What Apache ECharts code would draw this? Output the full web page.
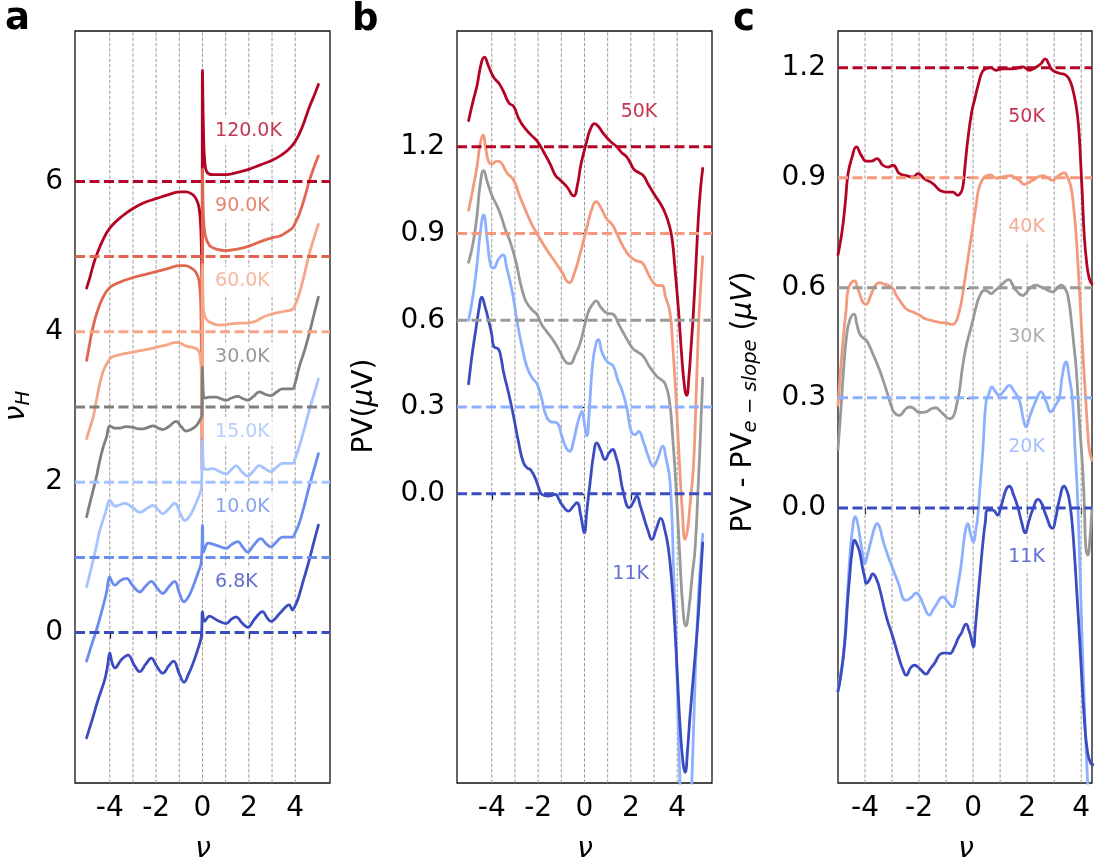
<!DOCTYPE html>
<html>
<head>
<meta charset="utf-8">
<script src="https://cdn.jsdelivr.net/npm/echarts@6/dist/echarts.min.js"></script>
<style>
  html, body { margin: 0; padding: 0; background: #fff; }
  #chart { width: 1096px; height: 867px; }
</style>
</head>
<body>
<div id="chart"></div>
<script>
// ---------- panel a: nu_H vs nu, each temperature shifted by its offset ----------
const a_temps   = ['6.8K', '10.0K', '15.0K', '30.0K', '60.0K', '90.0K', '120.0K'];
const a_offsets = [0, 1, 2, 3, 4, 5, 6];
const a_yticks  = [0, 2, 4, 6];

const a_068K = [[-5.0,-1.40],[-4.75,-1.15],[-4.5,-0.89],[-4.22,-0.63],[-4.1,-0.45],[-4.0,-0.27],[-3.9,-0.40],[-3.78,-0.47],[-3.5,-0.36],[-3.21,-0.30],[-2.95,-0.43],[-2.71,-0.52],[-2.45,-0.42],[-2.21,-0.34],[-1.95,-0.46],[-1.71,-0.54],[-1.45,-0.44],[-1.25,-0.38],[-1.0,-0.55],[-0.8,-0.66],[-0.6,-0.55],[-0.41,-0.41],[-0.2,-0.22],[-0.05,-0.05],[0.0,0.28],[0.09,0.15],[0.3,0.22],[0.65,0.16],[1.02,0.12],[1.25,0.18],[1.45,0.21],[1.7,0.13],[1.95,0.07],[2.25,0.18],[2.59,0.28],[2.78,0.20],[2.95,0.15],[3.35,0.26],[3.74,0.37],[3.88,0.30],[4.0,0.36],[4.10,0.43],[4.35,0.69],[4.6,0.96],[4.8,1.20],[5.0,1.43]];
const a_100K = [[-5.0,-0.38],[-4.8,-0.18],[-4.57,0.04],[-4.29,0.35],[-4.15,0.52],[-4.0,0.74],[-3.9,0.67],[-3.78,0.63],[-3.55,0.69],[-3.28,0.72],[-3.0,0.62],[-2.71,0.54],[-2.45,0.62],[-2.21,0.68],[-1.95,0.59],[-1.71,0.52],[-1.45,0.61],[-1.2,0.68],[-1.0,0.53],[-0.8,0.41],[-0.6,0.48],[-0.41,0.61],[-0.2,0.79],[-0.05,0.94],[0.0,1.43],[0.04,1.07],[0.12,1.13],[0.23,1.19],[0.6,1.16],[1.02,1.12],[1.25,1.17],[1.52,1.21],[1.75,1.13],[1.95,1.07],[2.2,1.16],[2.52,1.25],[2.75,1.18],[2.95,1.14],[3.2,1.21],[3.45,1.27],[3.88,1.27],[4.0,1.33],[4.17,1.45],[4.4,1.70],[4.6,1.94],[4.8,2.16],[5.0,2.38]];
const a_150K = [[-5.0,0.61],[-4.86,0.78],[-4.72,0.96],[-4.57,1.16],[-4.43,1.36],[-4.2,1.58],[-4.0,1.76],[-3.9,1.72],[-3.78,1.68],[-3.55,1.70],[-3.35,1.72],[-3.0,1.66],[-2.71,1.60],[-2.4,1.65],[-2.14,1.69],[-1.9,1.63],[-1.71,1.58],[-1.45,1.65],[-1.2,1.72],[-0.95,1.58],[-0.77,1.49],[-0.6,1.53],[-0.41,1.63],[-0.2,1.78],[-0.05,1.92],[0.0,2.56],[0.04,2.20],[0.15,2.17],[0.44,2.18],[0.75,2.14],[1.02,2.11],[1.25,2.17],[1.45,2.22],[1.7,2.14],[1.95,2.08],[2.2,2.15],[2.45,2.22],[2.7,2.18],[2.95,2.14],[3.2,2.20],[3.45,2.25],[3.88,2.25],[4.0,2.32],[4.17,2.47],[4.4,2.72],[4.6,2.95],[4.8,3.16],[5.0,3.37]];
const a_300K = [[-5.0,1.54],[-4.86,1.72],[-4.72,1.89],[-4.57,2.08],[-4.43,2.29],[-4.29,2.46],[-4.14,2.60],[-4.0,2.75],[-3.8,2.72],[-3.57,2.72],[-3.3,2.74],[-3.0,2.73],[-2.78,2.71],[-2.57,2.71],[-2.35,2.73],[-2.14,2.75],[-1.92,2.72],[-1.71,2.70],[-1.45,2.74],[-1.14,2.81],[-0.92,2.74],[-0.71,2.68],[-0.5,2.70],[-0.27,2.75],[-0.09,2.84],[-0.02,2.90],[0.0,3.53],[0.04,3.16],[0.12,3.12],[0.3,3.13],[0.59,3.13],[0.8,3.11],[1.02,3.09],[1.25,3.12],[1.52,3.14],[1.75,3.11],[1.95,3.09],[2.2,3.14],[2.45,3.20],[2.7,3.17],[2.95,3.15],[3.2,3.20],[3.45,3.24],[3.7,3.24],[3.88,3.24],[4.0,3.32],[4.17,3.53],[4.4,3.75],[4.6,3.97],[4.8,4.22],[5.0,4.46]];
const a_600K = [[-5.0,2.58],[-4.86,2.72],[-4.72,2.86],[-4.57,3.10],[-4.43,3.31],[-4.29,3.47],[-4.14,3.57],[-3.93,3.66],[-3.5,3.70],[-3.0,3.73],[-2.5,3.76],[-2.02,3.79],[-1.5,3.83],[-1.12,3.86],[-0.9,3.84],[-0.69,3.81],[-0.4,3.79],[-0.2,3.76],[-0.1,3.68],[-0.05,3.40],[-0.02,2.60],[0.0,4.90],[0.04,4.30],[0.12,4.19],[0.3,4.13],[0.73,4.09],[1.31,4.11],[2.0,4.12],[2.3,4.14],[2.58,4.19],[3.02,4.24],[3.5,4.27],[3.88,4.30],[4.0,4.36],[4.17,4.50],[4.4,4.77],[4.6,5.03],[4.8,5.24],[5.0,5.43]];
const a_900K = [[-5.0,3.62],[-4.89,3.80],[-4.79,3.97],[-4.57,4.24],[-4.29,4.46],[-4.0,4.59],[-3.57,4.66],[-3.0,4.72],[-2.5,4.76],[-2.0,4.80],[-1.5,4.84],[-1.02,4.88],[-0.75,4.88],[-0.5,4.85],[-0.3,4.80],[-0.15,4.68],[-0.07,4.30],[-0.02,2.16],[0.0,6.16],[0.04,5.55],[0.12,5.28],[0.3,5.15],[0.6,5.10],[1.0,5.08],[1.5,5.10],[2.0,5.14],[2.59,5.21],[3.0,5.25],[3.31,5.27],[3.6,5.32],[3.88,5.38],[4.0,5.45],[4.17,5.56],[4.4,5.78],[4.6,6.00],[4.8,6.18],[5.0,6.34]];
const a_1200K = [[-5.0,4.58],[-4.86,4.72],[-4.72,4.88],[-4.57,5.02],[-4.3,5.22],[-4.0,5.38],[-3.5,5.53],[-3.0,5.64],[-2.5,5.72],[-2.0,5.77],[-1.5,5.82],[-1.0,5.86],[-0.7,5.86],[-0.45,5.83],[-0.28,5.77],[-0.15,5.65],[-0.07,5.35],[-0.02,4.60],[0.0,7.48],[0.04,6.70],[0.1,6.25],[0.2,6.12],[0.45,6.09],[1.0,6.09],[1.5,6.12],[2.0,6.16],[2.5,6.22],[3.0,6.28],[3.4,6.35],[3.7,6.42],[4.0,6.53],[4.3,6.72],[4.6,6.98],[4.8,7.13],[5.0,7.29]];

// ---------- panel b: PV (uV), shifted ----------
const bc_offsets = [0, 0.3, 0.6, 0.9, 1.2];
const bc_yticks  = [0, 0.3, 0.6, 0.9, 1.2];
const nu_ticks   = [-4, -2, 0, 2, 4];
const nu_grid    = [-4, -3, -2, -1, 0, 1, 2, 3, 4];

const b_11K = [[-5.0,0.38],[-4.85,0.48],[-4.71,0.556],[-4.55,0.64],[-4.43,0.68],[-4.3,0.65],[-4.14,0.60],[-4.0,0.55],[-3.92,0.51],[-3.71,0.50],[-3.6,0.47],[-3.49,0.42],[-3.28,0.35],[-3.06,0.268],[-2.84,0.176],[-2.63,0.107],[-2.45,0.088],[-2.34,0.084],[-2.13,0.055],[-1.95,0.015],[-1.84,-0.002],[-1.55,-0.008],[-1.26,-0.002],[-1.1,-0.02],[-0.98,-0.037],[-0.69,-0.06],[-0.5,-0.045],[-0.33,-0.031],[-0.15,-0.08],[-0.01,-0.135],[0.1,-0.06],[0.24,0.038],[0.4,0.14],[0.53,0.176],[0.7,0.15],[0.89,0.118],[1.05,0.14],[1.22,0.153],[1.35,0.13],[1.47,0.095],[1.68,0.003],[1.94,-0.048],[2.1,-0.03],[2.26,-0.008],[2.4,-0.04],[2.54,-0.077],[2.75,-0.13],[2.9,-0.158],[3.1,-0.12],[3.29,-0.085],[3.45,-0.12],[3.62,-0.19],[3.78,-0.32],[3.91,-0.48],[4.02,-0.65],[4.12,-0.80],[4.25,-0.93],[4.34,-0.963],[4.45,-0.88],[4.55,-0.77],[4.75,-0.58],[4.91,-0.42],[5.0,-0.30],[5.1,-0.17]];
const b_20K = [[-5.0,0.60],[-4.8,0.69],[-4.64,0.79],[-4.5,0.90],[-4.35,0.964],[-4.2,0.88],[-4.05,0.79],[-3.92,0.78],[-3.72,0.81],[-3.52,0.826],[-3.35,0.78],[-3.2,0.73],[-3.05,0.67],[-2.92,0.60],[-2.7,0.51],[-2.49,0.44],[-2.25,0.40],[-2.05,0.38],[-1.85,0.33],[-1.70,0.28],[-1.48,0.25],[-1.19,0.245],[-0.98,0.20],[-0.8,0.16],[-0.65,0.147],[-0.45,0.19],[-0.33,0.234],[-0.2,0.27],[-0.11,0.285],[0.0,0.24],[0.1,0.20],[0.2,0.28],[0.35,0.45],[0.5,0.52],[0.6,0.533],[0.75,0.49],[0.96,0.458],[1.1,0.45],[1.25,0.44],[1.45,0.39],[1.61,0.36],[1.82,0.30],[2.04,0.21],[2.2,0.205],[2.33,0.216],[2.54,0.18],[2.75,0.13],[2.97,0.095],[3.15,0.12],[3.38,0.165],[3.5,0.13],[3.69,0.04],[3.85,-0.28],[4.0,-0.65],[4.12,-1.00],[4.3,-1.30],[4.45,-1.35],[4.63,-1.00],[4.78,-0.62],[4.91,-0.365],[5.0,-0.25],[5.1,-0.14]];
const b_30K = [[-5.0,0.80],[-4.8,0.87],[-4.64,0.96],[-4.5,1.07],[-4.35,1.117],[-4.2,1.08],[-3.99,1.03],[-3.8,1.00],[-3.64,0.97],[-3.4,0.91],[-3.2,0.87],[-2.95,0.80],[-2.77,0.73],[-2.6,0.68],[-2.49,0.66],[-2.25,0.635],[-2.05,0.62],[-1.85,0.585],[-1.62,0.56],[-1.3,0.525],[-1.05,0.49],[-0.8,0.455],[-0.62,0.45],[-0.4,0.48],[-0.19,0.52],[0.0,0.58],[0.17,0.63],[0.35,0.655],[0.5,0.667],[0.7,0.645],[0.96,0.625],[1.25,0.62],[1.45,0.59],[1.68,0.556],[1.9,0.525],[2.11,0.50],[2.3,0.49],[2.54,0.475],[2.8,0.44],[3.12,0.406],[3.3,0.395],[3.48,0.38],[3.65,0.33],[3.8,0.20],[3.95,0.02],[4.1,-0.20],[4.25,-0.40],[4.37,-0.457],[4.5,-0.40],[4.65,-0.28],[4.77,-0.19],[4.9,0.02],[5.0,0.20],[5.1,0.40]];
const b_40K = [[-5.0,0.98],[-4.8,1.06],[-4.64,1.13],[-4.5,1.21],[-4.38,1.24],[-4.25,1.19],[-4.14,1.15],[-4.0,1.14],[-3.78,1.15],[-3.6,1.145],[-3.35,1.11],[-3.06,1.085],[-2.8,1.03],[-2.49,0.97],[-2.2,0.92],[-1.91,0.88],[-1.6,0.84],[-1.34,0.81],[-1.0,0.77],[-0.65,0.73],[-0.45,0.76],[-0.19,0.83],[0.1,0.92],[0.3,0.98],[0.5,1.01],[0.7,0.99],[0.96,0.95],[1.2,0.93],[1.39,0.90],[1.7,0.85],[1.97,0.82],[2.25,0.805],[2.47,0.80],[2.75,0.76],[2.97,0.73],[3.15,0.72],[3.33,0.72],[3.5,0.68],[3.69,0.625],[3.8,0.52],[3.95,0.33],[4.1,0.10],[4.22,-0.06],[4.34,-0.158],[4.45,-0.12],[4.55,-0.04],[4.7,0.095],[4.8,0.30],[4.91,0.56],[5.0,0.70],[5.1,0.82]];
const b_50K = [[-5.0,1.29],[-4.8,1.36],[-4.64,1.41],[-4.45,1.49],[-4.32,1.51],[-4.15,1.48],[-3.92,1.44],[-3.7,1.42],[-3.49,1.39],[-3.25,1.35],[-3.06,1.34],[-2.85,1.30],[-2.63,1.27],[-2.3,1.24],[-2.05,1.22],[-1.75,1.18],[-1.48,1.14],[-1.25,1.10],[-1.05,1.085],[-0.75,1.06],[-0.47,1.03],[-0.3,1.07],[-0.15,1.14],[0.1,1.22],[0.25,1.26],[0.43,1.28],[0.6,1.27],[0.82,1.245],[1.1,1.22],[1.39,1.20],[1.6,1.18],[1.82,1.165],[2.0,1.14],[2.15,1.12],[2.35,1.11],[2.54,1.10],[2.75,1.07],[3.05,1.03],[3.3,1.00],[3.48,0.97],[3.65,0.93],[3.78,0.88],[3.9,0.78],[4.05,0.64],[4.2,0.47],[4.33,0.36],[4.41,0.34],[4.5,0.40],[4.6,0.51],[4.7,0.63],[4.8,0.78],[4.91,0.95],[5.0,1.05],[5.1,1.125]];

// ---------- panel c: PV minus the e-slope part, shifted ----------
const c_11K = [[-5.0,-0.50],[-4.9,-0.46],[-4.75,-0.369],[-4.65,-0.26],[-4.57,-0.188],[-4.48,-0.12],[-4.38,-0.088],[-4.3,-0.10],[-4.2,-0.12],[-4.1,-0.16],[-4.01,-0.19],[-3.95,-0.206],[-3.83,-0.195],[-3.71,-0.18],[-3.6,-0.19],[-3.46,-0.22],[-3.21,-0.297],[-2.97,-0.352],[-2.72,-0.415],[-2.6,-0.44],[-2.48,-0.456],[-2.3,-0.435],[-2.17,-0.429],[-1.98,-0.438],[-1.74,-0.453],[-1.6,-0.44],[-1.43,-0.424],[-1.18,-0.397],[-1.0,-0.395],[-0.87,-0.397],[-0.69,-0.379],[-0.55,-0.355],[-0.44,-0.342],[-0.26,-0.317],[-0.15,-0.335],[-0.07,-0.356],[0.01,-0.379],[0.08,-0.33],[0.17,-0.252],[0.27,-0.17],[0.36,-0.097],[0.45,-0.04],[0.54,-0.006],[0.73,-0.006],[0.91,-0.02],[1.0,-0.005],[1.1,0.021],[1.22,0.05],[1.34,0.059],[1.5,0.035],[1.65,0.003],[1.8,-0.04],[1.93,-0.068],[2.05,-0.04],[2.2,-0.006],[2.41,0.023],[2.55,0.01],[2.67,-0.015],[2.94,-0.056],[3.05,-0.03],[3.19,0.021],[3.37,0.059],[3.5,0.04],[3.56,0.021],[3.65,-0.03],[3.74,-0.115],[3.83,-0.22],[3.93,-0.342],[4.11,-0.569],[4.24,-0.669],[4.36,-0.697],[4.45,-0.70]];
const c_20K = [[-5.0,-0.50],[-4.9,-0.45],[-4.82,-0.415],[-4.7,-0.30],[-4.57,-0.142],[-4.45,-0.05],[-4.36,-0.024],[-4.28,-0.04],[-4.2,-0.075],[-4.1,-0.12],[-4.01,-0.152],[-3.9,-0.125],[-3.77,-0.088],[-3.65,-0.055],[-3.55,-0.043],[-3.45,-0.055],[-3.34,-0.088],[-3.2,-0.12],[-3.09,-0.143],[-2.78,-0.202],[-2.48,-0.252],[-2.3,-0.245],[-2.11,-0.232],[-1.95,-0.245],[-1.86,-0.261],[-1.61,-0.292],[-1.5,-0.28],[-1.37,-0.265],[-1.2,-0.245],[-1.12,-0.243],[-0.95,-0.255],[-0.75,-0.27],[-0.65,-0.25],[-0.57,-0.215],[-0.45,-0.16],[-0.38,-0.115],[-0.28,-0.06],[-0.2,-0.043],[-0.1,-0.07],[0.01,-0.093],[0.1,-0.06],[0.17,-0.025],[0.27,0.07],[0.36,0.157],[0.48,0.29],[0.58,0.31],[0.7,0.33],[0.8,0.32],[0.97,0.307],[1.15,0.32],[1.34,0.334],[1.5,0.32],[1.71,0.293],[1.85,0.245],[1.96,0.221],[2.1,0.25],[2.33,0.293],[2.51,0.316],[2.7,0.29],[2.88,0.262],[3.05,0.28],[3.19,0.30],[3.3,0.36],[3.44,0.398],[3.55,0.36],[3.68,0.293],[3.78,0.15],[3.87,0.021],[3.99,-0.252],[4.11,-0.524],[4.24,-0.75],[4.35,-0.90]];
const c_30K = [[-5.0,0.16],[-4.9,0.26],[-4.79,0.38],[-4.68,0.47],[-4.57,0.511],[-4.41,0.528],[-4.3,0.50],[-4.2,0.475],[-4.07,0.463],[-3.95,0.457],[-3.83,0.44],[-3.71,0.42],[-3.46,0.375],[-3.21,0.321],[-2.97,0.266],[-2.85,0.255],[-2.72,0.252],[-2.6,0.26],[-2.48,0.271],[-2.35,0.275],[-2.23,0.273],[-1.98,0.26],[-1.74,0.262],[-1.55,0.27],[-1.37,0.273],[-1.25,0.266],[-1.12,0.257],[-0.87,0.243],[-0.78,0.245],[-0.69,0.257],[-0.6,0.285],[-0.5,0.321],[-0.4,0.38],[-0.26,0.439],[-0.12,0.48],[-0.01,0.511],[0.1,0.545],[0.23,0.575],[0.42,0.593],[0.55,0.59],[0.67,0.584],[0.8,0.592],[0.97,0.602],[1.15,0.615],[1.32,0.622],[1.45,0.61],[1.59,0.593],[1.83,0.579],[2.0,0.59],[2.08,0.598],[2.33,0.607],[2.5,0.603],[2.64,0.598],[2.94,0.589],[3.1,0.598],[3.25,0.607],[3.44,0.593],[3.55,0.56],[3.62,0.52],[3.72,0.45],[3.81,0.384],[3.93,0.239],[4.05,0.112],[4.12,0.0],[4.17,-0.106],[4.24,-0.129],[4.32,-0.088],[4.4,0.0]];
const c_40K = [[-5.0,0.28],[-4.9,0.38],[-4.79,0.475],[-4.7,0.54],[-4.63,0.593],[-4.5,0.615],[-4.38,0.619],[-4.28,0.60],[-4.2,0.584],[-4.07,0.56],[-3.95,0.555],[-3.83,0.572],[-3.71,0.593],[-3.6,0.608],[-3.46,0.614],[-3.3,0.61],[-3.15,0.607],[-2.97,0.598],[-2.85,0.58],[-2.72,0.566],[-2.48,0.543],[-2.2,0.533],[-1.98,0.525],[-1.75,0.515],[-1.49,0.51],[-1.25,0.506],[-1.0,0.504],[-0.75,0.50],[-0.62,0.51],[-0.55,0.525],[-0.45,0.555],[-0.38,0.584],[-0.2,0.675],[-0.01,0.766],[0.12,0.83],[0.23,0.875],[0.42,0.902],[0.63,0.908],[0.85,0.899],[1.1,0.902],[1.38,0.906],[1.55,0.90],[1.71,0.893],[1.9,0.882],[2.05,0.886],[2.2,0.893],[2.57,0.906],[2.75,0.90],[2.94,0.893],[3.15,0.905],[3.37,0.913],[3.5,0.90],[3.62,0.875],[3.72,0.82],[3.81,0.747],[3.9,0.64],[3.99,0.52],[4.08,0.40],[4.17,0.293],[4.25,0.20],[4.3,0.157],[4.4,0.13]];
const c_50K = [[-5.0,0.69],[-4.9,0.73],[-4.82,0.77],[-4.72,0.84],[-4.63,0.91],[-4.48,0.956],[-4.32,0.984],[-4.14,0.961],[-3.95,0.945],[-3.77,0.945],[-3.56,0.952],[-3.34,0.934],[-3.15,0.929],[-2.97,0.934],[-2.72,0.911],[-2.48,0.906],[-2.23,0.902],[-2.04,0.911],[-1.8,0.897],[-1.49,0.884],[-1.18,0.864],[-0.94,0.861],[-0.75,0.861],[-0.57,0.852],[-0.45,0.86],[-0.38,0.875],[-0.3,0.93],[-0.2,1.002],[-0.05,1.08],[0.05,1.111],[0.23,1.165],[0.35,1.19],[0.48,1.197],[0.65,1.20],[0.85,1.193],[1.1,1.197],[1.47,1.197],[1.83,1.202],[2.08,1.193],[2.33,1.202],[2.5,1.21],[2.67,1.224],[2.8,1.21],[2.94,1.193],[3.2,1.185],[3.44,1.179],[3.58,1.165],[3.68,1.143],[3.78,1.11],[3.87,1.065],[3.94,1.0],[3.99,0.929],[4.05,0.84],[4.11,0.747],[4.2,0.67],[4.3,0.625],[4.4,0.61]];

const bc_temps = ['11K', '20K', '30K', '40K', '50K'];

// ---------- styling ----------
const FONT = '"DejaVu Sans", sans-serif';
const a_colors  = ['#3b4cc0', '#6a8cef', '#a5c3fe', '#7f7f7f', '#f6a586', '#e0664f', '#b40426'];
const bc_colors = ['#3b4cc0', '#8db0fe', '#999999', '#f4997b', '#b40426'];

const grids = [
  { left: 75,  top: 31, width: 255, height: 752 },
  { left: 457, top: 31, width: 255, height: 752 },
  { left: 838, top: 31, width: 254, height: 752 }
];
const xRanges = [[-5.5, 5.5], [-5.5, 5.5], [-5.0, 4.4]];
const yRanges = [[-2, 8], [-1.0, 1.6], [-0.75, 1.3]];

function xAxisFor(i) {
  return {
    gridIndex: i, type: 'value', min: xRanges[i][0], max: xRanges[i][1],
    axisLine: { show: false }, splitLine: { show: false },
    axisTick: { show: true, length: 6, customValues: nu_ticks, lineStyle: { color: '#000', width: 1.2 } },
    axisLabel: { customValues: nu_ticks, fontSize: 28, fontFamily: FONT, color: '#000', margin: 12,
                 formatter: v => String(v) }
  };
}
function yAxisFor(i, ticks, fmt) {
  return {
    gridIndex: i, type: 'value', min: yRanges[i][0], max: yRanges[i][1],
    axisLine: { show: false }, splitLine: { show: false },
    axisTick: { show: true, length: 6, customValues: ticks, lineStyle: { color: '#000', width: 1.2 } },
    axisLabel: { customValues: ticks, fontSize: 28, fontFamily: FONT, color: '#000', margin: 12, formatter: fmt }
  };
}

const series = [];

// thin dotted guides at integer filling factors
grids.forEach((g, i) => {
  nu_grid.forEach(v => {
    series.push({
      type: 'line', xAxisIndex: i, yAxisIndex: i, silent: true, symbol: 'none', z: 1,
      data: [[v, yRanges[i][0]], [v, yRanges[i][1]]],
      lineStyle: { color: '#9c9c9c', width: 1, type: [3.5, 1.8] }
    });
  });
});

function addPanel(i, curves, colors, offsets, smoothing) {
  // hottest first so the colder curves sit on top
  for (let k = curves.length - 1; k >= 0; k--) {
    series.push(Object.assign({
      type: 'line', xAxisIndex: i, yAxisIndex: i, data: curves[k],
      symbol: 'none', showSymbol: false, clip: true, z: 2,
      lineStyle: { color: colors[k], width: 2.8, join: 'round', cap: 'round' }
    }, smoothing));
  }
  offsets.forEach((off, k) => {
    series.push({
      type: 'line', xAxisIndex: i, yAxisIndex: i, silent: true, symbol: 'none', z: 3,
      data: [[xRanges[i][0], off], [xRanges[i][1], off]],
      lineStyle: { color: colors[k], width: 3, type: [10, 4.5] }
    });
  });
}
addPanel(0, [a_068K, a_100K, a_150K, a_300K, a_600K, a_900K, a_1200K], a_colors, a_offsets, { smooth: 0.4 });
addPanel(1, [b_11K, b_20K, b_30K, b_40K, b_50K], bc_colors, bc_offsets, { smooth: 0.5 });
addPanel(2, [c_11K, c_20K, c_30K, c_40K, c_50K], bc_colors, bc_offsets, { smooth: 0.5 });

// temperature tags on white boxes
function tagSeries(i, items, fontSize) {
  return {
    type: 'scatter', xAxisIndex: i, yAxisIndex: i, symbolSize: 1, silent: true, z: 6,
    itemStyle: { color: 'rgba(0,0,0,0)' },
    label: { show: true, position: 'right', distance: 0, formatter: '{b}', fontSize: fontSize,
             fontFamily: FONT, backgroundColor: '#fff', padding: [5, 3, 5, 3] },
    data: items.map(t => ({ name: t.text, value: [t.x, t.y], label: { color: t.color } }))
  };
}
series.push(tagSeries(0, a_temps.map((t, k) => ({ text: t, x: 0.39, y: a_offsets[k] + 0.67, color: a_colors[k] })), 19));
series.push(tagSeries(1, [
  { text: bc_temps[4], x: 1.41, y: 1.32, color: bc_colors[4] },
  { text: bc_temps[0], x: 1.05, y: -0.279, color: bc_colors[0] }
], 19));
series.push(tagSeries(2, bc_temps.map((t, k) => ({ text: t, x: 1.17, y: bc_offsets[k] - 0.134, color: bc_colors[k] })), 19));

const txt = (x, y, text, extra) => Object.assign({
  type: 'text', x: x, y: y, silent: true,
  style: Object.assign({ text: text, fill: '#000', fontFamily: FONT, fontSize: 28,
                         align: 'center', verticalAlign: 'middle',
                         textAlign: 'center', textVerticalAlign: 'middle' }, extra.style || {})
}, extra.el || {});

const graphic = [
  // panel letters
  txt(5, 19.5, 'a', { style: { fontSize: 37, fontWeight: 'bold', align: 'left', textAlign: 'left' } }),
  txt(352, 20, 'b', { style: { fontSize: 37, fontWeight: 'bold', align: 'left', textAlign: 'left' } }),
  txt(733, 20, 'c', { style: { fontSize: 37, fontWeight: 'bold', align: 'left', textAlign: 'left' } }),
  // x-axis names
  txt(203, 850, 'ν', { style: { fontStyle: 'italic' } }),
  txt(585, 850, 'ν', { style: { fontStyle: 'italic' } }),
  txt(966, 850, 'ν', { style: { fontStyle: 'italic' } }),
  // y-axis names
  txt(17, 406, '{m|ν}{s|H}', { el: { rotation: Math.PI / 2 }, style: {
    rich: {
      m: { fontFamily: FONT, fontSize: 28, fontStyle: 'italic', lineHeight: 34, verticalAlign: 'middle' },
      s: { fontFamily: FONT, fontSize: 19.6, fontStyle: 'italic', lineHeight: 20, verticalAlign: 'bottom' }
    } } }),
  txt(365, 406, '{r|PV(}{i|μ}{r|V)}', { el: { rotation: Math.PI / 2 }, style: {
    rich: {
      r: { fontFamily: FONT, fontSize: 28 },
      i: { fontFamily: FONT, fontSize: 28, fontStyle: 'italic' }
    } } }),
  txt(744, 402, '{r|PV - PV}{s|e − slope}{r| (}{i|μV}{r|)}', { el: { rotation: Math.PI / 2 }, style: {
    rich: {
      r: { fontFamily: FONT, fontSize: 28, lineHeight: 34, verticalAlign: 'middle' },
      i: { fontFamily: FONT, fontSize: 28, fontStyle: 'italic', lineHeight: 34, verticalAlign: 'middle' },
      s: { fontFamily: FONT, fontSize: 19.6, fontStyle: 'italic', lineHeight: 20, verticalAlign: 'bottom' }
    } } })
];

const chart = echarts.init(document.getElementById('chart'), null, { renderer: 'canvas' });
chart.setOption({
  animation: false,
  backgroundColor: '#fff',
  grid: grids.map(g => Object.assign({ show: true, borderColor: '#111', borderWidth: 1.3, backgroundColor: 'transparent' }, g)),
  xAxis: [xAxisFor(0), xAxisFor(1), xAxisFor(2)],
  yAxis: [
    yAxisFor(0, a_yticks, v => String(v)),
    yAxisFor(1, bc_yticks, v => v.toFixed(1)),
    yAxisFor(2, bc_yticks, v => v.toFixed(1))
  ],
  series: series,
  graphic: graphic
});
</script>
</body>
</html>
